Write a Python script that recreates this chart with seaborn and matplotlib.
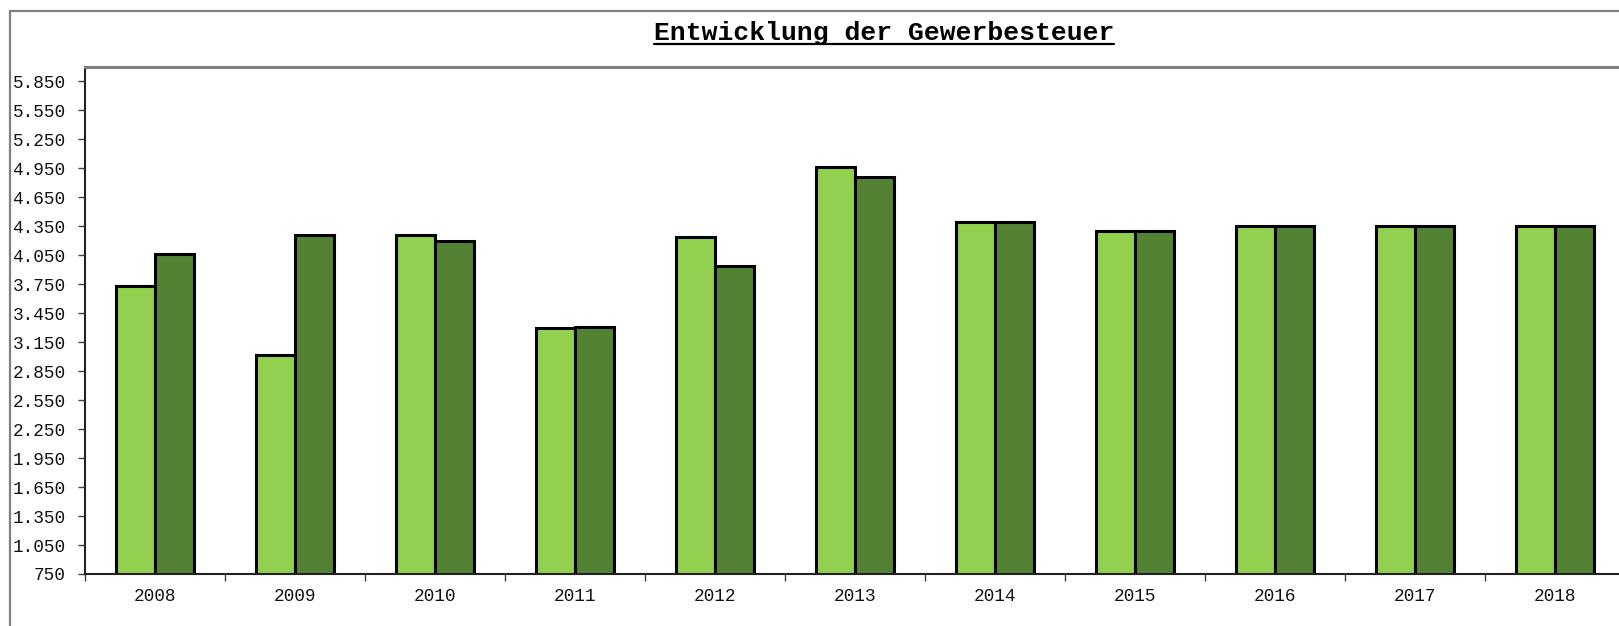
import pandas as pd
import matplotlib.pyplot as plt
import seaborn as sns
from matplotlib.lines import Line2D
from matplotlib.ticker import FixedLocator, FuncFormatter

# ---------------- DATA ----------------
jahre = ["2008", "2009", "2010", "2011", "2012", "2013",
         "2014", "2015", "2016", "2017", "2018"]
reihe_a = [3730, 3015, 4260, 3300, 4235, 4965, 4395, 4300, 4350, 4350, 4350]
reihe_b = [4060, 4260, 4195, 3310, 3935, 4860, 4395, 4300, 4350, 4350, 4350]
reihen = ["A", "B"]
farben = ["#92D050", "#548235"]
y_ticks = list(range(750, 5851, 300))

df = pd.DataFrame({
    "Jahr": jahre * 2,
    "Wert": reihe_a + reihe_b,
    "Reihe": [reihen[0]] * len(jahre) + [reihen[1]] * len(jahre),
})

# ---------------- STYLE ----------------
sns.set_style("white")
plt.rcParams["font.family"] = ["Liberation Mono", "DejaVu Sans Mono"]

fig = plt.figure(figsize=(16.19, 6.26), dpi=100)
ax = fig.add_axes([85 / 1619, 1 - 574 / 626, 1540 / 1619, (574 - 67) / 626])

sns.barplot(data=df, x="Jahr", y="Wert", hue="Reihe", palette=farben,
            width=0.56, edgecolor="black", linewidth=2.2, legend=False,
            saturation=1, ax=ax)

ax.set_xlim(-0.5, len(jahre) - 0.5)
ax.set_ylim(750, 6000)
ax.set_xlabel("")
ax.set_ylabel("")

# y axis
ax.yaxis.set_major_locator(FixedLocator(y_ticks))
ax.yaxis.set_major_formatter(FuncFormatter(lambda v, p: f"{int(v):,}".replace(",", ".")))
ax.tick_params(axis="y", which="major", left=True, length=5, width=1,
               color="#404040", labelsize=12.8, pad=9, labelcolor="#111111")

# x axis: labels in the middle, ticks at the boundaries
ax.xaxis.set_minor_locator(FixedLocator([i - 0.5 for i in range(len(jahre) + 1)]))
ax.tick_params(axis="x", which="major", bottom=False, length=0,
               labelsize=12.8, pad=10, labelcolor="#111111")
ax.tick_params(axis="x", which="minor", bottom=True, length=5, width=1, color="#404040")

for s in ["left", "bottom"]:
    ax.spines[s].set_color("#222222")
    ax.spines[s].set_linewidth(1.5)
ax.spines["top"].set_color("#808080")
ax.spines["top"].set_linewidth(2.2)
ax.spines["right"].set_visible(False)

# ---------------- OUTER FRAME ----------------
fx = 9.5 / 1619
fy = 1 - 11 / 626
fig.add_artist(Line2D([fx, fx], [0, fy], color="#808080", lw=1.6, transform=fig.transFigure))
fig.add_artist(Line2D([fx, 1], [fy, fy], color="#808080", lw=1.6, transform=fig.transFigure))

# ---------------- TITLE (underlined) ----------------
title = fig.text(884 / 1619, 1 - 33 / 626, "Entwicklung der Gewerbesteuer",
                 ha="center", va="center", fontsize=19, fontweight="bold", color="black")
fig.canvas.draw()
bb = title.get_window_extent().transformed(fig.transFigure.inverted())
uy = 1 - 44 / 626
fig.add_artist(Line2D([bb.x0, bb.x1], [uy, uy], color="black", lw=1.6, transform=fig.transFigure))

fig.savefig("out.png", dpi=100)
